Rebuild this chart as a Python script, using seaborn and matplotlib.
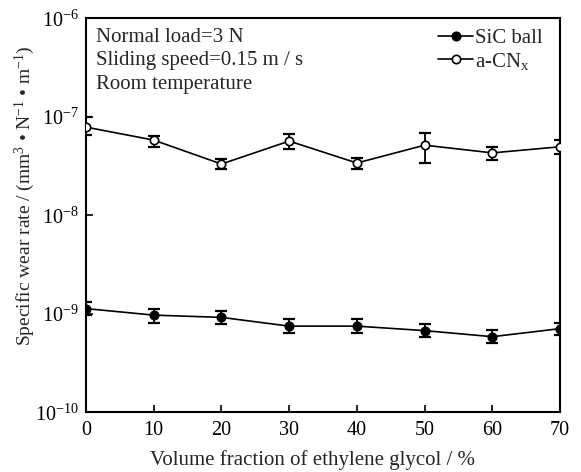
import numpy as np
import pandas as pd
import matplotlib
matplotlib.use("Agg")
import matplotlib.pyplot as plt
import seaborn as sns
from matplotlib.ticker import LogLocator, NullLocator, FixedLocator

# ---- data ----
fraction = [0, 10, 20, 30, 40, 50, 60, 70]
sic_rate = [1.13e-9, 9.7e-10, 9.2e-10, 7.5e-10, 7.5e-10, 6.75e-10, 5.86e-10, 7.07e-10]
sic_low = [9.72e-10, 8.13e-10, 7.82e-10, 6.43e-10, 6.43e-10, 5.77e-10, 5.02e-10, 6.04e-10]
sic_high = [1.33e-9, 1.12e-9, 1.07e-9, 8.79e-10, 8.79e-10, 7.82e-10, 6.79e-10, 8.11e-10]
cnx_rate = [7.87e-8, 5.81e-8, 3.32e-8, 5.68e-8, 3.40e-8, 5.16e-8, 4.31e-8, 4.97e-8]
cnx_low = [6.53e-8, 4.93e-8, 2.95e-8, 4.71e-8, 2.98e-8, 3.40e-8, 3.64e-8, 4.19e-8]
cnx_high = [9.95e-8, 6.38e-8, 3.73e-8, 6.68e-8, 3.82e-8, 6.84e-8, 4.93e-8, 5.81e-8]
x_ticks = [0, 10, 20, 30, 40, 50, 60, 70]
info_lines = ["Normal load=3 N", "Sliding speed=0.15 m / s", "Room temperature"]

sns.set_theme(style="ticks")
plt.rcParams["font.family"] = ["Liberation Serif", "DejaVu Serif"]
plt.rcParams["mathtext.fontset"] = "custom"
plt.rcParams["mathtext.rm"] = "Liberation Serif"
plt.rcParams["mathtext.it"] = "Liberation Serif:italic"
plt.rcParams["mathtext.bf"] = "Liberation Serif:bold"

fig = plt.figure(figsize=(5.81, 4.72), dpi=100)
ax = fig.add_axes([0.148, 0.1265, 0.816, 0.8345])

df_sic = pd.DataFrame({"x": fraction, "y": sic_rate})
df_cnx = pd.DataFrame({"x": fraction, "y": cnx_rate})

sns.lineplot(data=df_sic, x="x", y="y", ax=ax, color="black", lw=1.2,
             marker="o", markersize=6.5, markerfacecolor="black",
             markeredgecolor="black", label="SiC ball", zorder=3)
sns.lineplot(data=df_cnx, x="x", y="y", ax=ax, color="black", lw=1.2,
             marker="o", markersize=6, markerfacecolor="white",
             markeredgecolor="black", markeredgewidth=1.2,
             label="a-CN$_\\mathrm{x}$", zorder=3)

s = np.array(sic_rate)
ax.errorbar(fraction, s, yerr=[s - np.array(sic_low), np.array(sic_high) - s],
            fmt="none", ecolor="black", elinewidth=1.3, capsize=4, capthick=1.6, zorder=2)
c = np.array(cnx_rate)
ax.errorbar(fraction, c, yerr=[c - np.array(cnx_low), np.array(cnx_high) - c],
            fmt="none", ecolor="black", elinewidth=1.3, capsize=4, capthick=1.6, zorder=2)

ax.set_yscale("log")
ax.set_ylim(1e-10, 1e-6)
ax.set_xlim(0, 70)
ax.xaxis.set_major_locator(FixedLocator(x_ticks))
ax.yaxis.set_major_locator(LogLocator(base=10, numticks=10))
ax.yaxis.set_minor_locator(NullLocator())
ax.tick_params(direction="in", length=5, width=1.2, labelsize=14.5, colors="black", pad=5)
ax.tick_params(axis="x", pad=6)

for sp in ax.spines.values():
    sp.set_linewidth(1.5)
    sp.set_color("black")

ax.set_xlabel("Volume fraction of ethylene glycol / %", fontsize=15)
ax.set_ylabel("Specific wear rate / (mm$^{3}$ • N$^{-1}$ • m$^{-1}$)", fontsize=14)
ax.xaxis.set_label_coords(0.477, -0.096)
ax.yaxis.set_label_coords(-0.103, 0.549)

ax.text(0.022, 0.975, "\n".join(info_lines), transform=ax.transAxes,
        ha="left", va="top", fontsize=15, linespacing=1.3)

leg = ax.legend(loc="upper right", bbox_to_anchor=(0.964, 0.974), frameon=False,
                fontsize=15, handlelength=1.7, handletextpad=0.1,
                borderaxespad=0.0, labelspacing=0.12, borderpad=0.0)

fig.savefig("out.png", dpi=100)
